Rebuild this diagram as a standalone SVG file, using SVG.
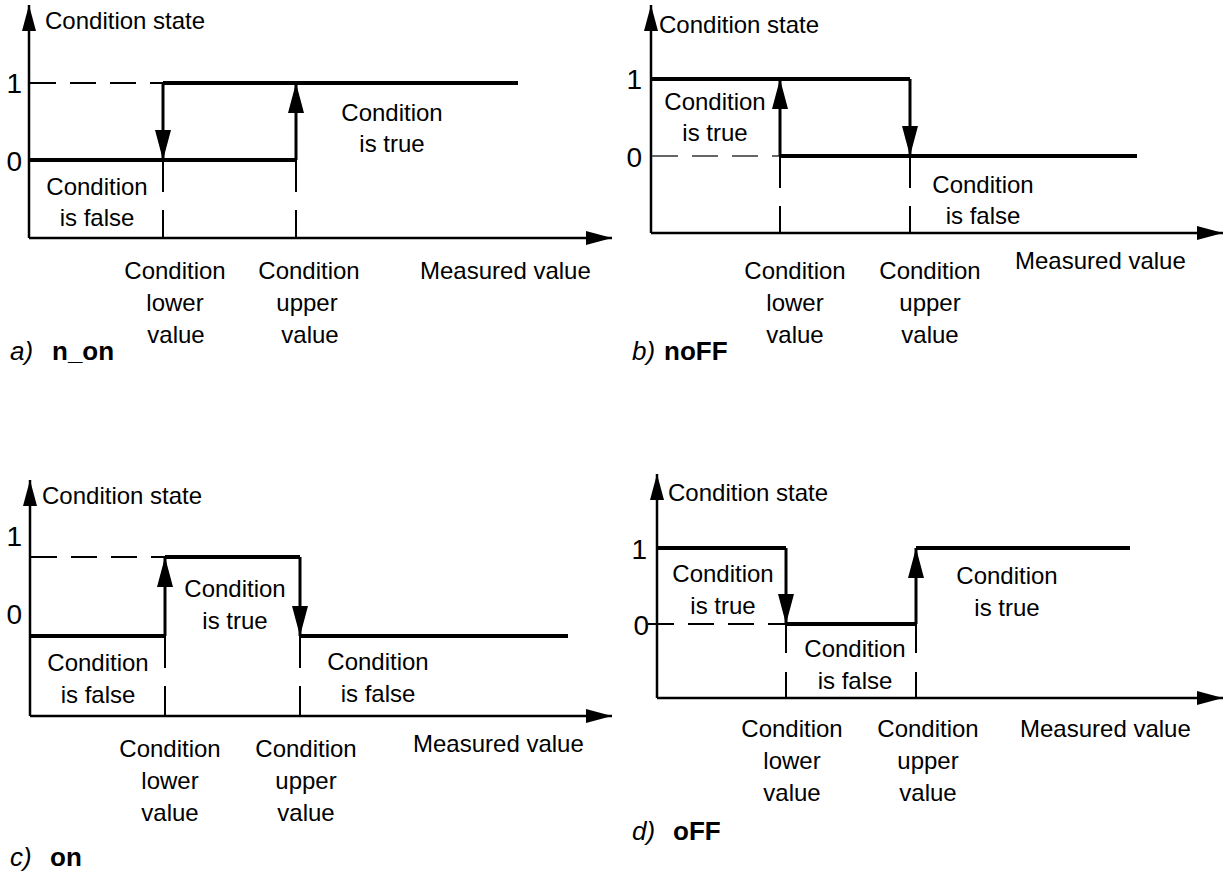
<svg xmlns="http://www.w3.org/2000/svg" width="1224" height="872" viewBox="0 0 1224 872">
<style>
text{font-family:"Liberation Sans",Arial,sans-serif;font-size:24px;fill:#000}
.c{text-anchor:middle}
.num{font-size:28px;text-anchor:end}
.cap{font-size:26px}
.it{font-style:italic}
.b{font-weight:bold}
.axis{stroke:#000;stroke-width:2.5;fill:none}
.thick{stroke:#000;stroke-width:4;fill:none}
.step{stroke:#000;stroke-width:3;fill:none}
.dh{stroke:#000;stroke-width:2;fill:none;stroke-dasharray:26 14}
.dhg{stroke:#666;stroke-width:2;fill:none;stroke-dasharray:26 14}
.dv{stroke:#000;stroke-width:2;fill:none;stroke-dasharray:32 18}
</style>
<defs>
<marker id="ax" markerUnits="userSpaceOnUse" markerWidth="26" markerHeight="14" refX="26" refY="7" orient="auto"><path d="M0,0 L26,7 L0,14 z" fill="#000"/></marker>
<marker id="st" markerUnits="userSpaceOnUse" markerWidth="30" markerHeight="16" refX="30" refY="8" orient="auto"><path d="M0,0 L30,8 L0,16 z" fill="#000"/></marker>
</defs>
<rect width="1224" height="872" fill="#fff"/>

<!-- Panel a -->
<g id="panel-a">
  <g id="a-axes">
    <line class="axis" x1="29" y1="238" x2="29" y2="5" marker-end="url(#ax)"/>
    <line class="axis" x1="29" y1="238" x2="612" y2="238" marker-end="url(#ax)"/>
  </g>
  <g id="a-connectors">
    <line class="dh" x1="30" y1="83" x2="163" y2="83"/>
    <line class="thick" x1="163" y1="83" x2="518" y2="83"/>
    <line class="thick" x1="29" y1="160" x2="296" y2="160"/>
    <line class="step" x1="163" y1="83" x2="163" y2="160" marker-end="url(#st)"/>
    <line class="step" x1="296" y1="160" x2="296" y2="83" marker-end="url(#st)"/>
    <line class="dv" x1="163" y1="160" x2="163" y2="238"/>
    <line class="dv" x1="296" y1="160" x2="296" y2="238"/>
  </g>
  <g id="a-labels">
    <text x="45" y="29">Condition state</text>
    <text class="num" x="22" y="93">1</text>
    <text class="num" x="22" y="171">0</text>
    <text class="c" x="392" y="121">Condition</text>
    <text class="c" x="392" y="152">is true</text>
    <text class="c" x="97" y="195">Condition</text>
    <text class="c" x="97" y="226">is false</text>
    <text class="c" x="175" y="279">Condition</text>
    <text class="c" x="175" y="311">lower</text>
    <text class="c" x="176" y="343">value</text>
    <text class="c" x="309" y="279">Condition</text>
    <text class="c" x="307" y="311">upper</text>
    <text class="c" x="310" y="343">value</text>
    <text x="420" y="279">Measured value</text>
    <text class="cap" x="10" y="360"><tspan class="it">a)</tspan><tspan class="b" x="52">n_on</tspan></text>
  </g>
</g>

<!-- Panel b -->
<g id="panel-b">
  <g id="b-axes">
    <line class="axis" x1="651" y1="233" x2="651" y2="5" marker-end="url(#ax)"/>
    <line class="axis" x1="651" y1="233" x2="1223" y2="233" marker-end="url(#ax)"/>
  </g>
  <g id="b-connectors">
    <line class="thick" x1="651" y1="79" x2="910" y2="79"/>
    <line class="dhg" x1="652" y1="156" x2="780" y2="156"/>
    <line class="thick" x1="780" y1="156" x2="1137" y2="156"/>
    <line class="step" x1="780" y1="156" x2="780" y2="79" marker-end="url(#st)"/>
    <line class="step" x1="910" y1="79" x2="910" y2="156" marker-end="url(#st)"/>
    <line class="dv" x1="780" y1="156" x2="780" y2="233"/>
    <line class="dv" x1="910" y1="156" x2="910" y2="233"/>
  </g>
  <g id="b-labels">
    <text x="659" y="33">Condition state</text>
    <text class="num" x="642" y="89">1</text>
    <text class="num" x="642" y="167">0</text>
    <text class="c" x="715" y="110">Condition</text>
    <text class="c" x="715" y="141">is true</text>
    <text class="c" x="983" y="193">Condition</text>
    <text class="c" x="983" y="224">is false</text>
    <text class="c" x="795" y="279">Condition</text>
    <text class="c" x="795" y="311">lower</text>
    <text class="c" x="795" y="343">value</text>
    <text class="c" x="930" y="279">Condition</text>
    <text class="c" x="930" y="311">upper</text>
    <text class="c" x="930" y="343">value</text>
    <text x="1015" y="269">Measured value</text>
    <text class="cap" x="632" y="360"><tspan class="it">b)</tspan><tspan class="b" x="664">noFF</tspan></text>
  </g>
</g>

<!-- Panel c -->
<g id="panel-c">
  <g id="c-axes">
    <line class="axis" x1="30" y1="716" x2="30" y2="480" marker-end="url(#ax)"/>
    <line class="axis" x1="30" y1="716" x2="612" y2="716" marker-end="url(#ax)"/>
  </g>
  <g id="c-connectors">
    <line class="dh" x1="31" y1="557" x2="165" y2="557"/>
    <line class="thick" x1="165" y1="557" x2="300" y2="557"/>
    <line class="thick" x1="30" y1="636" x2="165" y2="636"/>
    <line class="thick" x1="300" y1="636" x2="568" y2="636"/>
    <line class="step" x1="165" y1="636" x2="165" y2="557" marker-end="url(#st)"/>
    <line class="step" x1="300" y1="557" x2="300" y2="636" marker-end="url(#st)"/>
    <line class="dv" x1="165" y1="636" x2="165" y2="716"/>
    <line class="dv" x1="300" y1="636" x2="300" y2="716"/>
  </g>
  <g id="c-labels">
    <text x="42" y="504">Condition state</text>
    <text class="num" x="22" y="546">1</text>
    <text class="num" x="22" y="624">0</text>
    <text class="c" x="235" y="597">Condition</text>
    <text class="c" x="235" y="629">is true</text>
    <text class="c" x="98" y="671">Condition</text>
    <text class="c" x="98" y="703">is false</text>
    <text class="c" x="378" y="670">Condition</text>
    <text class="c" x="378" y="702">is false</text>
    <text class="c" x="170" y="757">Condition</text>
    <text class="c" x="170" y="789">lower</text>
    <text class="c" x="170" y="821">value</text>
    <text class="c" x="306" y="757">Condition</text>
    <text class="c" x="306" y="789">upper</text>
    <text class="c" x="306" y="821">value</text>
    <text x="413" y="752">Measured value</text>
    <text class="cap" x="10" y="866"><tspan class="it">c)</tspan><tspan class="b" x="50">on</tspan></text>
  </g>
</g>

<!-- Panel d -->
<g id="panel-d">
  <g id="d-axes">
    <line class="axis" x1="657" y1="698" x2="657" y2="474" marker-end="url(#ax)"/>
    <line class="axis" x1="657" y1="698" x2="1223" y2="698" marker-end="url(#ax)"/>
  </g>
  <g id="d-connectors">
    <line class="thick" x1="657" y1="548" x2="786" y2="548"/>
    <line class="dh" x1="648" y1="624" x2="786" y2="624"/>
    <line class="thick" x1="786" y1="624" x2="916" y2="624"/>
    <line class="thick" x1="916" y1="548" x2="1130" y2="548"/>
    <line class="step" x1="786" y1="548" x2="786" y2="624" marker-end="url(#st)"/>
    <line class="step" x1="916" y1="624" x2="916" y2="548" marker-end="url(#st)"/>
    <line class="dv" x1="786" y1="624" x2="786" y2="698" style="stroke-dasharray:29 19"/>
    <line class="dv" x1="916" y1="624" x2="916" y2="698" style="stroke-dasharray:29 19"/>
  </g>
  <g id="d-labels">
    <text x="668" y="501">Condition state</text>
    <text class="num" x="647" y="559">1</text>
    <text class="num" x="649" y="635">0</text>
    <text class="c" x="723" y="582">Condition</text>
    <text class="c" x="723" y="614">is true</text>
    <text class="c" x="1007" y="584">Condition</text>
    <text class="c" x="1007" y="616">is true</text>
    <text class="c" x="855" y="657">Condition</text>
    <text class="c" x="855" y="689">is false</text>
    <text class="c" x="792" y="737">Condition</text>
    <text class="c" x="792" y="769">lower</text>
    <text class="c" x="792" y="801">value</text>
    <text class="c" x="928" y="737">Condition</text>
    <text class="c" x="928" y="769">upper</text>
    <text class="c" x="928" y="801">value</text>
    <text x="1020" y="737">Measured value</text>
    <text class="cap" x="632" y="840"><tspan class="it">d)</tspan><tspan class="b" x="673">oFF</tspan></text>
  </g>
</g>
</svg>
